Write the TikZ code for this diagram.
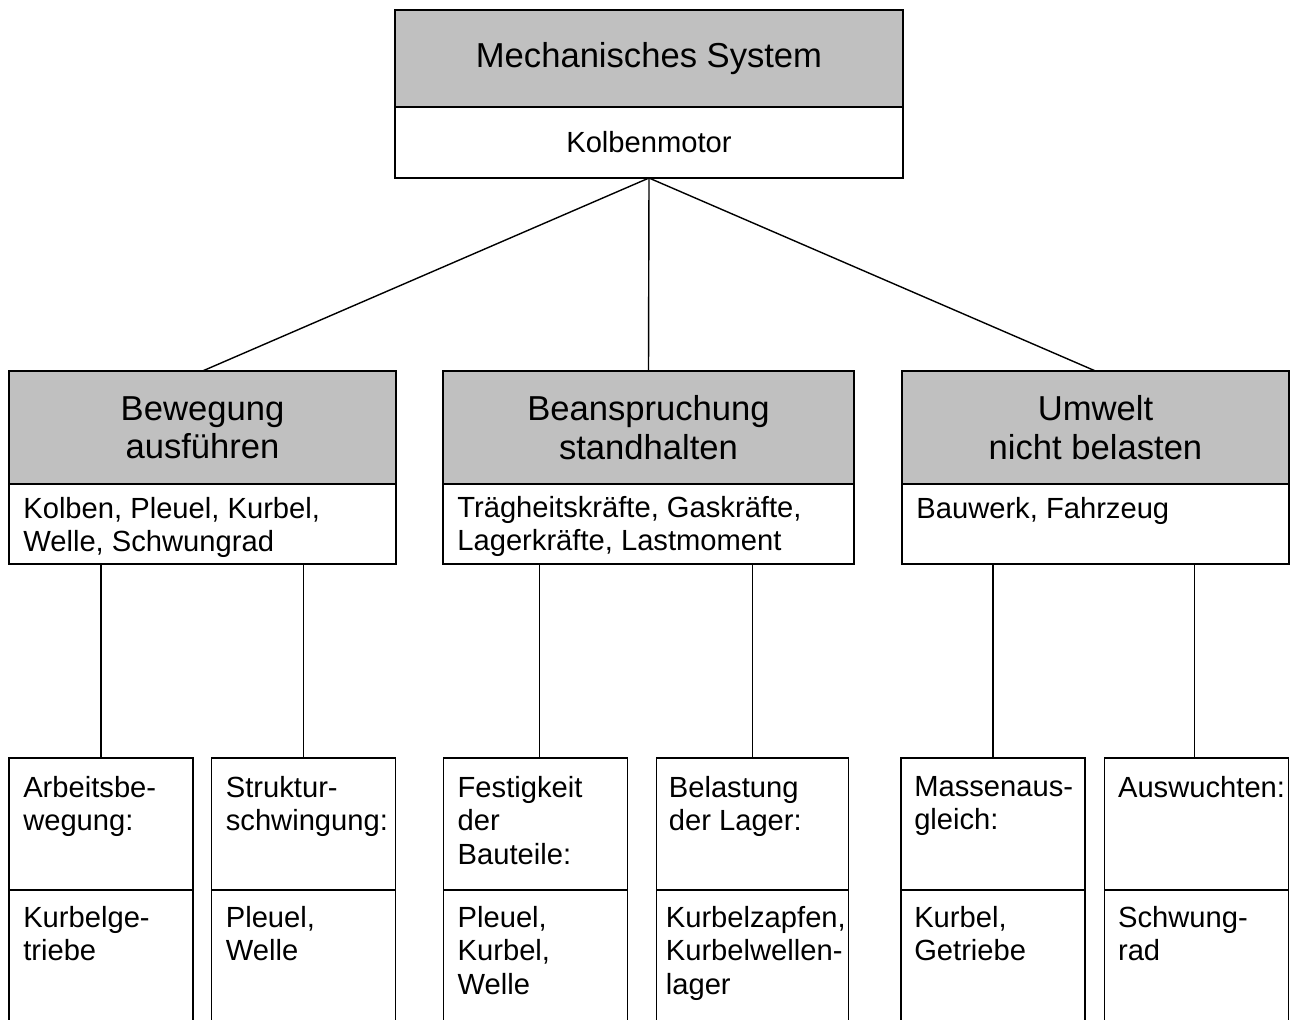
\documentclass[tikz,border=0pt]{standalone}
\usepackage{fontspec}
\setmainfont{Liberation Sans}
\usepackage{xcolor}
\usepackage{tikz}
\usetikzlibrary{calc,positioning}

\definecolor{kopfgrau}{RGB}{192,192,192}
\def\pxu{0.02cm}

\begin{document}
\begin{tikzpicture}[
    x=0.02cm, y=-0.02cm,
    box/.style={draw, line width=0.8pt, outer sep=0pt, inner sep=0pt},
    kopf/.style={box, fill=kopfgrau, align=center, font=\fontsize{19.7}{21.8}\selectfont},
    feld/.style={box, fill=white, font=\fontsize{16.6}{19}\selectfont},
    notiz/.style={anchor=north west, align=left, inner sep=0pt, font=\fontsize{16.6}{19}\selectfont},
    ast/.style={line width=0.8pt}
]

% 그림 크기 고정 (아래쪽 상자는 잘림)
\path[use as bounding box, clip] (0,0) rectangle (1294,1019);

% 최상위 상자
\node[kopf, minimum width=508*\pxu, minimum height=97*\pxu] (sys) at (649,58.5) {Mechanisches System};
\node[feld, minimum width=508*\pxu, minimum height=71*\pxu, below=0pt of sys] (motor) {Kolbenmotor};

% 중간 단계: 세 가지 기능
\node[kopf, minimum width=387*\pxu, minimum height=113*\pxu] (bew) at (202.5,427.5) {Bewegung\\ausführen};
\node[feld, minimum width=387*\pxu, minimum height=80*\pxu, below=0pt of bew] (bewk) {};
\node[notiz] (bewt) at ($(bewk.north west)+(14,13)$) {Kolben, Pleuel, Kurbel,\\Welle, Schwungrad};

\node[kopf, minimum width=411*\pxu, minimum height=113*\pxu] (bea) at (648.5,427.5) {Beanspruchung\\standhalten};
\node[feld, minimum width=411*\pxu, minimum height=80*\pxu, below=0pt of bea] (beak) {};
\node[notiz] (beat) at ($(beak.north west)+(14,12)$) {Trägheitskräfte, Gaskräfte,\\Lagerkräfte, Lastmoment};

\node[kopf, minimum width=387*\pxu, minimum height=113*\pxu] (umw) at (1095.5,427.5) {Umwelt\\nicht belasten};
\node[feld, minimum width=387*\pxu, minimum height=80*\pxu, below=0pt of umw] (umwk) {};
\node[notiz] (umwt) at ($(umwk.north west)+(14,13)$) {Bauwerk, Fahrzeug};

% 위 -> 중간 연결선
\draw[ast] (motor.south) -- (bew.north);
\draw[ast] (motor.south) -- (bea.north);
\draw[ast] (motor.south) -- (umw.north);

% 하단 상자들 (위: 과제, 아래: 부품)
\node[box, minimum width=184*\pxu, minimum height=132*\pxu] (arb) at (100.9,824) {};
\node[box, minimum width=184*\pxu, minimum height=140*\pxu, below=0pt of arb] (arbk) {};
\node[notiz] (arbt) at ($(arb.north west)+(14,18)$) {Arbeitsbe-\\wegung:};
\node[notiz] (arbl) at ($(arbk.north west)+(14,16)$) {Kurbelge-\\triebe};

\node[box, minimum width=184*\pxu, minimum height=132*\pxu] (str) at (303.5,824) {};
\node[box, minimum width=184*\pxu, minimum height=140*\pxu, below=0pt of str] (strk) {};
\node[notiz] (strt) at ($(str.north west)+(14,18)$) {Struktur-\\schwingung:};
\node[notiz] (strl) at ($(strk.north west)+(14,16)$) {Pleuel,\\Welle};

\node[box, minimum width=184*\pxu, minimum height=132*\pxu] (fes) at (535.3,824) {};
\node[box, minimum width=184*\pxu, minimum height=140*\pxu, below=0pt of fes] (fesk) {};
\node[notiz] (fest) at ($(fes.north west)+(14,18)$) {Festigkeit\\der\\Bauteile:};
\node[notiz] (fesl) at ($(fesk.north west)+(14,16)$) {Pleuel,\\Kurbel,\\Welle};

\node[box, minimum width=192*\pxu, minimum height=132*\pxu] (las) at (752.5,824) {};
\node[box, minimum width=192*\pxu, minimum height=140*\pxu, below=0pt of las] (lask) {};
\node[notiz] (last) at ($(las.north west)+(12,18)$) {Belastung\\der Lager:};
\node[notiz] (lasl) at ($(lask.north west)+(9,16)$) {Kurbelzapfen,\\Kurbelwellen-\\lager};

\node[box, minimum width=184*\pxu, minimum height=132*\pxu] (mas) at (992.9,824) {};
\node[box, minimum width=184*\pxu, minimum height=140*\pxu, below=0pt of mas] (mask) {};
\node[notiz] (mast) at ($(mas.north west)+(13,18)$) {Massenaus-\\gleich:};
\node[notiz] (masl) at ($(mask.north west)+(13,16)$) {Kurbel,\\Getriebe};

\node[box, minimum width=184*\pxu, minimum height=132*\pxu] (aus) at (1196.7,824) {};
\node[box, minimum width=184*\pxu, minimum height=140*\pxu, below=0pt of aus] (ausk) {};
\node[notiz] (aust) at ($(aus.north west)+(13,18)$) {Auswuchten:};
\node[notiz] (ausl) at ($(ausk.north west)+(13,16)$) {Schwung-\\rad};

% 중간 -> 하단 수직선 (몇 개는 중심에서 약간 비켜 있음)
\draw[ast] (arb.north) -- (arb.north |- bewk.south);
\draw[ast] (str.north) -- (str.north |- bewk.south);
\draw[ast] ([xshift=4*\pxu]fes.north) -- ([xshift=4*\pxu]fes.north |- beak.south);
\draw[ast] (las.north) -- (las.north |- beak.south);
\draw[ast] (mas.north) -- (mas.north |- umwk.south);
\draw[ast] ([xshift=-2.5*\pxu]aus.north) -- ([xshift=-2.5*\pxu]aus.north |- umwk.south);

\end{tikzpicture}
\end{document}
